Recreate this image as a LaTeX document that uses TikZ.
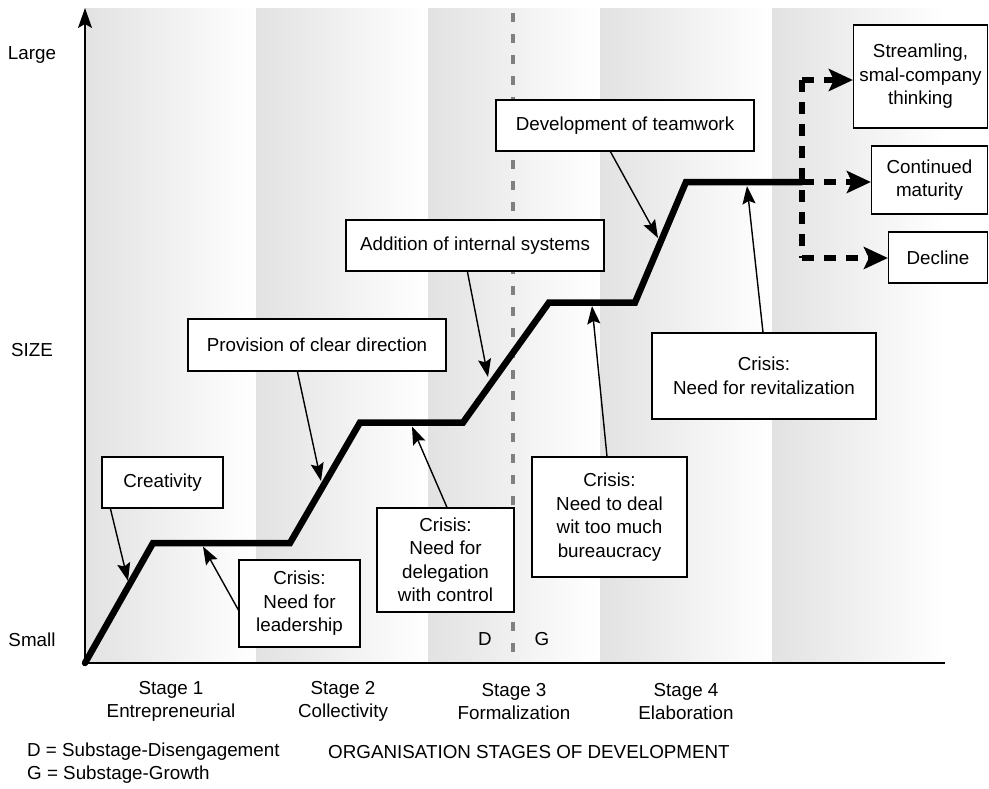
\documentclass[tikz,border=0pt]{standalone}
\usepackage{fontspec}
\setmainfont{Liberation Sans}
\usetikzlibrary{arrows.meta,calc}
\definecolor{bandgray}{RGB}{226,226,226}
\definecolor{dashgray}{RGB}{128,128,128}
\begin{document}
\begin{tikzpicture}[x=1pt,y=-1pt,
  every node/.style={font=\fontsize{18.8}{23.5}\selectfont, inner sep=0pt},
  box/.style={draw=black, fill=white, line width=1.2pt, align=center},
  callout/.style={line width=1.4pt, -{Stealth[length=18pt,width=13pt,inset=3pt]}},
  stair/.style={line width=6.5pt, line cap=round, line join=miter},
  fork/.style={line width=6.5pt, dash pattern=on 12pt off 10pt},
  forkhead/.style={fork, -{Stealth[length=24pt,width=22pt,inset=5pt]}},
  axisline/.style={line width=1.6pt},
  divider/.style={draw=dashgray, line width=3.2pt, dash pattern=on 9pt off 12pt},
  lbl/.style={align=center}
]
\useasboundingbox (0,0) rectangle (989,788);

% shaded stage bands
\foreach \a/\b in {85/256,256/428,428/600,600/772,772/945}
  \shade[left color=bandgray, right color=white] (\a,8) rectangle (\b,663);

% substage divider
\coordinate (dtop) at (513,13);
\coordinate (dbot) at (513,663);
\draw[divider] (dtop) -- (dbot);

% axes
\coordinate (O) at (85,663);
\coordinate (ytip) at (85,8);
\coordinate (xend) at (945,663);
\draw[axisline, -{Stealth[length=20pt,width=14pt,inset=4pt]}] (O) -- (ytip);
\draw[axisline] (O) -- (xend);

% growth staircase
\coordinate (s1) at (153,543);
\coordinate (s2) at (290,543);
\coordinate (s3) at (360,422.5);
\coordinate (s4) at (463,422.5);
\coordinate (s5) at (549,302.5);
\coordinate (s6) at (635,302.5);
\coordinate (s7) at (686,182);
\coordinate (s8) at (802,182);
\draw[stair] (O) -- (s1) -- (s2) -- (s3) -- (s4) -- (s5) -- (s6) -- (s7) -- (s8);

% outcome boxes
\node[box, minimum width=134pt, minimum height=103pt] (stream) at (920.5,76.5) {Streamling,\\smal-company\\thinking};
\node[box, minimum width=116pt, minimum height=68pt] (cont) at (929.5,180) {Continued\\maturity};
\node[box, minimum width=99pt, minimum height=51pt] (decl) at (938,257.5) {Decline};

% fork to the outcomes
\coordinate (fTop) at (802,80);
\coordinate (fBot) at (802,258);
\draw[fork] (fTop) -- (fBot);
\draw[forkhead] (fTop) -- (fTop -| stream.west);
\draw[forkhead] (s8) -- (s8 -| cont.west);
\draw[forkhead] (fBot) -- (fBot -| decl.west);

% growth and crisis boxes
\node[box, minimum width=121pt, minimum height=51pt] (creat) at (162.5,482.5) {Creativity};
\node[box, minimum width=258pt, minimum height=52pt] (prov) at (317,345) {Provision of clear direction};
\node[box, minimum width=258pt, minimum height=51pt] (addit) at (475,245.5) {Addition of internal systems};
\node[box, minimum width=258pt, minimum height=51pt] (devel) at (625,125.5) {Development of teamwork};
\node[box, minimum width=121pt, minimum height=87pt] (lead) at (299.5,603.5) {Crisis:\\Need for\\leadership};
\node[box, minimum width=137pt, minimum height=104pt] (deleg) at (445.5,560) {Crisis:\\Need for\\delegation\\with control};
\node[box, minimum width=155pt, minimum height=120pt] (bureau) at (609.5,517) {Crisis:\\Need to deal\\wit too much\\bureaucracy};
\node[box, minimum width=224pt, minimum height=86pt] (revit) at (764,376) {Crisis:\\Need for revitalization};

% callout targets on the staircase
\coordinate (tcreat) at (128,581);
\coordinate (tprov) at (321,481);
\coordinate (taddit) at (488,377);
\coordinate (tdevel) at (658,238);
\coordinate (tlead) at (203,546.5);
\coordinate (tdeleg) at (412,426.5);
\coordinate (tbureau) at (592,306);
\coordinate (trevit) at (747,186);

\draw[callout] ($(creat.south west)+(9,0)$) -- (tcreat);
\draw[callout] ($(prov.south west)+(110,0)$) -- (tprov);
\draw[callout] ($(addit.south west)+(122,0)$) -- (taddit);
\draw[callout] ($(devel.south west)+(115,0)$) -- (tdevel);
\draw[callout] ($(lead.west)+(0,6.5)$) -- (tlead);
\draw[callout] ($(deleg.north)+(1.5,0)$) -- (tdeleg);
\draw[callout] ($(bureau.north)+(-2.5,0)$) -- (tbureau);
\draw[callout] ($(revit.north)+(-1,0)$) -- (trevit);

% axis labels
\node (large) at (32,55) {Large};
\node (size) at (32,350) {SIZE};
\node (small) at (32,640) {Small};
\node (dlab) at (485,639) {D};
\node (glab) at (542,639) {G};

% stage labels
\node[lbl] (st1) at (171,701.5) {Stage 1\\Entrepreneurial};
\node[lbl] (st2) at (343,701.5) {Stage 2\\Collectivity};
\node[lbl] (st3) at (514,701.5) {Stage 3\\Formalization};
\node[lbl] (st4) at (686,701.5) {Stage 4\\Elaboration};

% legend and axis title
\node[anchor=west] (legd) at (27,752) {D = Substage-Disengagement};
\node[anchor=west] (legg) at (27,775) {G = Substage-Growth};
\node[anchor=west] (xtitle) at (328,752) {ORGANISATION STAGES OF DEVELOPMENT};
\end{tikzpicture}
\end{document}
